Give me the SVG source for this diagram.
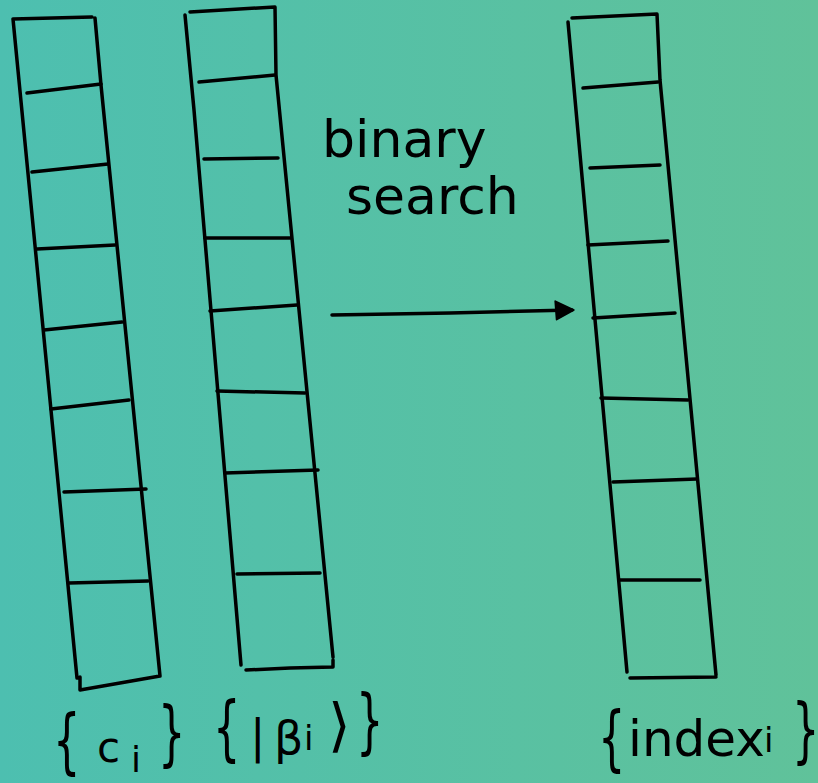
<svg xmlns="http://www.w3.org/2000/svg" width="818" height="783" viewBox="0 0 818 783">
  <defs>
    <linearGradient id="bg" x1="0" y1="0" x2="1" y2="0">
      <stop offset="0" stop-color="#4dbfb0"/>
      <stop offset="1" stop-color="#60c29a"/>
    </linearGradient>
    <marker id="head" viewBox="0 0 24 24" markerWidth="22" markerHeight="22" refX="20" refY="12" orient="auto" markerUnits="userSpaceOnUse">
      <path d="M2,2 L22,12 L3,22 Z" fill="#000" stroke="#000" stroke-width="2" stroke-linejoin="round"/>
    </marker>
    <style>
      .ink { fill: none; stroke: #000; stroke-width: 3.5; stroke-linecap: round; stroke-linejoin: round; }
      .hand { font-family: "DejaVu Sans", "Liberation Sans", sans-serif; fill: #000; }
      .brace { font-family: "DejaVu Sans", "Liberation Sans", sans-serif; fill: #000; font-size: 72px; }
    </style>
  </defs>

  <rect width="818" height="783" fill="url(#bg)"/>

  <!-- column of coefficients c_i -->
  <g id="col-c">
    <path class="ink" d="M13,19 L92,17 M95,18 L101,85 L160,676 M13,19 L77,678 M80,677 L80,690 L120,683 L160,676"/>
    <path class="ink" d="M27,93 L101,84 M32,172 L108,164 M37,249 L115,245 M44,330 L122,322 M51,409 L129,400 M64,492 L146,489 M69,583 L148,581"/>
    <text class="brace" transform="translate(53,765) scale(0.6,1)">{</text>
    <text class="hand" font-size="42" x="97" y="762">c</text>
    <text class="hand" font-size="36" x="131" y="772">i</text>
    <text class="brace" transform="translate(158,757) scale(0.6,1)">}</text>
  </g>

  <!-- column of states |beta_i> -->
  <g id="col-beta">
    <path class="ink" d="M190,12 L275,7 L276,75 L333,657 M185,15 L194,110 L241,665 M246,670 L290,668 L333,667 L333,660"/>
    <path class="ink" d="M199,82 L275,75 M204,159 L278,158 M205,238 L291,238 M210,311 L297,305 M217,391 L305,393 M225,473 L318,470 M237,574 L320,573"/>
    <text class="brace" transform="translate(213,752) scale(0.6,1)">{</text>
    <text class="hand" font-size="46" x="250" y="752">|</text>
    <text class="hand" font-size="46" x="274" y="754">β</text>
    <text class="hand" font-size="34" x="304" y="750">i</text>
    <text class="hand" font-size="58" x="328" y="745">⟩</text>
    <text class="brace" transform="translate(356,745) scale(0.6,1)">}</text>
  </g>

  <!-- column of indices -->
  <g id="col-index">
    <path class="ink" d="M572,18 L657,14 L660,80 L716,675 M568,22 L627,672 M630,678 L716,677"/>
    <path class="ink" d="M583,88 L658,82 M590,168 L660,165 M588,245 L668,241 M593,318 L675,313 M601,398 L688,400 M613,482 L697,479 M620,580 L700,580"/>
    <text class="brace" transform="translate(598,762) scale(0.6,1)">{</text>
    <text class="hand" font-size="50" x="628" y="756">index</text>
    <text class="hand" font-size="34" x="764" y="752">i</text>
    <text class="brace" transform="translate(792,754) scale(0.6,1)">}</text>
  </g>

  <!-- connector with its label -->
  <g id="connectors">
    <path class="ink" d="M332,315 L450,313 L572,310" marker-end="url(#head)"/>
    <text class="hand" font-size="52" x="322" y="157">binary</text>
    <text class="hand" font-size="52" x="346" y="214">search</text>
  </g>
</svg>
